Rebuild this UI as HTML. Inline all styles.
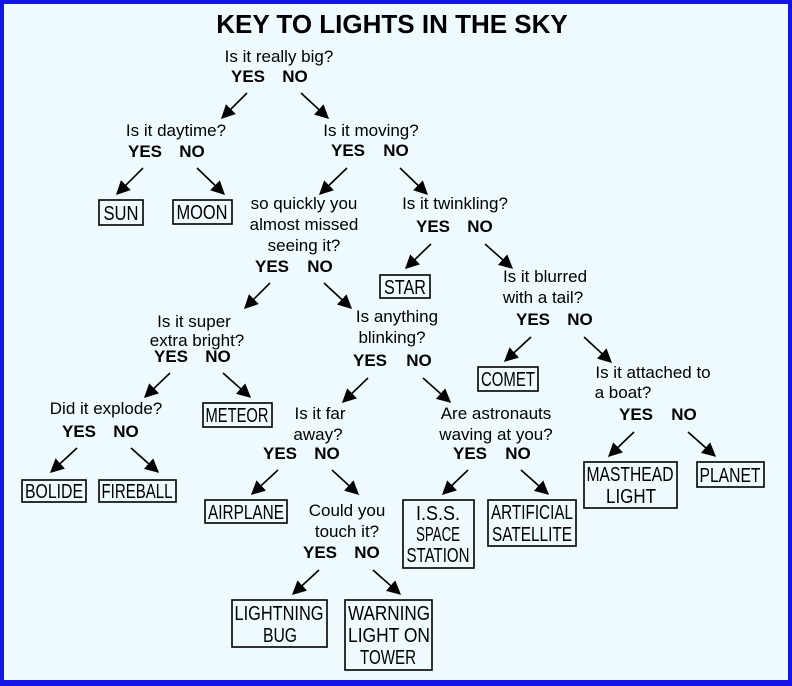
<!DOCTYPE html>
<html><head><meta charset="utf-8"><style>
html,body{margin:0;padding:0;}
body{width:792px;height:686px;overflow:hidden;}
svg{display:block;}
.q{font-family:"Liberation Sans",sans-serif;font-size:17px;fill:#000;text-anchor:middle;}
.b{font-family:"Liberation Sans",sans-serif;font-size:17px;font-weight:bold;fill:#000;text-anchor:middle;}
.n{font-family:"Liberation Sans",sans-serif;font-size:20px;fill:#000;text-anchor:middle;}
rect.x{fill:none;stroke:#000;stroke-width:1.6;}
line{stroke:#000;stroke-width:1.6;marker-end:url(#ah2);}
</style></head><body>
<svg width="792" height="686" viewBox="0 0 792 686">
<defs><marker id="ah2" viewBox="0 0 10 10" refX="9" refY="5" markerWidth="14" markerHeight="14" markerUnits="userSpaceOnUse" orient="auto"><path d="M0,0 L10,5 L0,10 Z" fill="#000"/></marker></defs>
<rect x="0" y="0" width="792" height="686" fill="#1414e6"/>
<rect x="4" y="4" width="784" height="676" fill="#eefafd"/>
<text x="392" y="33" style="font-family:'Liberation Sans',sans-serif;font-size:26px;font-weight:bold;text-anchor:middle">KEY TO LIGHTS IN THE SKY</text>

<text class="q" x="279" y="62">Is it really big?</text>
<text class="b" x="248" y="82">YES</text><text class="b" x="295" y="82">NO</text>
<line x1="247" y1="93" x2="222" y2="118"/><line x1="301" y1="93" x2="328" y2="118"/>

<text class="q" x="176" y="136">Is it daytime?</text>
<text class="b" x="145" y="157">YES</text><text class="b" x="192" y="157">NO</text>
<line x1="143" y1="168" x2="117" y2="194"/><line x1="197" y1="168" x2="224" y2="194"/>
<rect class="x" x="99" y="200" width="44" height="25"/><text class="n" x="121" y="220" textLength="35" lengthAdjust="spacingAndGlyphs">SUN</text>
<rect class="x" x="173" y="200" width="59" height="24"/><text class="n" x="202" y="219" textLength="51" lengthAdjust="spacingAndGlyphs">MOON</text>

<text class="q" x="371" y="136">Is it moving?</text>
<text class="b" x="348" y="156">YES</text><text class="b" x="396" y="156">NO</text>
<line x1="347" y1="168" x2="320" y2="194"/><line x1="400" y1="168" x2="427" y2="194"/>

<text class="q" x="304" y="209">so quickly you</text>
<text class="q" x="304" y="230">almost missed</text>
<text class="q" x="304" y="251">seeing it?</text>
<text class="b" x="272" y="272">YES</text><text class="b" x="320" y="272">NO</text>
<line x1="270" y1="283" x2="245" y2="308"/><line x1="324" y1="283" x2="351" y2="308"/>

<text class="q" x="455" y="209">Is it twinkling?</text>
<text class="b" x="433" y="232">YES</text><text class="b" x="480" y="232">NO</text>
<line x1="431" y1="244" x2="406" y2="268"/><line x1="485" y1="244" x2="512" y2="268"/>
<rect class="x" x="380" y="275" width="50" height="23"/><text class="n" x="405" y="294" textLength="42" lengthAdjust="spacingAndGlyphs">STAR</text>

<text class="q" x="545" y="282">Is it blurred</text>
<text class="q" x="543" y="303">with a tail?</text>
<text class="b" x="533" y="325">YES</text><text class="b" x="580" y="325">NO</text>
<line x1="531" y1="337" x2="505" y2="361"/><line x1="584" y1="337" x2="611" y2="362"/>
<rect class="x" x="478" y="367" width="60" height="24"/><text class="n" x="508" y="386" textLength="54" lengthAdjust="spacingAndGlyphs">COMET</text>

<text class="q" x="194" y="327">Is it super</text>
<text class="q" x="197" y="346">extra bright?</text>
<text class="b" x="171" y="362">YES</text><text class="b" x="218" y="362">NO</text>
<line x1="170" y1="373" x2="145" y2="397"/><line x1="223" y1="373" x2="250" y2="397"/>
<rect class="x" x="203" y="403" width="69" height="24"/><text class="n" x="237" y="422" textLength="63" lengthAdjust="spacingAndGlyphs">METEOR</text>

<text class="q" x="397" y="322">Is anything</text>
<text class="q" x="392" y="343">blinking?</text>
<text class="b" x="370" y="366">YES</text><text class="b" x="419" y="366">NO</text>
<line x1="368" y1="378" x2="343" y2="402"/><line x1="423" y1="378" x2="450" y2="402"/>

<text class="q" x="653" y="378">Is it attached to</text>
<text class="q" x="623" y="398">a boat?</text>
<text class="b" x="636" y="420">YES</text><text class="b" x="684" y="420">NO</text>
<line x1="634" y1="432" x2="609" y2="456"/><line x1="688" y1="432" x2="715" y2="456"/>
<rect class="x" x="584" y="462" width="93" height="46"/><text class="n" x="630" y="481" textLength="87" lengthAdjust="spacingAndGlyphs">MASTHEAD</text><text class="n" x="631" y="503" textLength="50" lengthAdjust="spacingAndGlyphs">LIGHT</text>
<rect class="x" x="697" y="462" width="67" height="25"/><text class="n" x="730" y="482" textLength="61" lengthAdjust="spacingAndGlyphs">PLANET</text>

<text class="q" x="106" y="414">Did it explode?</text>
<text class="b" x="79" y="437">YES</text><text class="b" x="126" y="437">NO</text>
<line x1="77" y1="448" x2="51" y2="472"/><line x1="131" y1="448" x2="158" y2="472"/>
<rect class="x" x="22" y="480" width="64" height="22"/><text class="n" x="54" y="498" textLength="58" lengthAdjust="spacingAndGlyphs">BOLIDE</text>
<rect class="x" x="99" y="480" width="77" height="22"/><text class="n" x="137" y="498" textLength="71" lengthAdjust="spacingAndGlyphs">FIREBALL</text>

<text class="q" x="320" y="419">Is it far</text>
<text class="q" x="318" y="440">away?</text>
<text class="b" x="280" y="459">YES</text><text class="b" x="327" y="459">NO</text>
<line x1="278" y1="470" x2="252" y2="494"/><line x1="332" y1="470" x2="358" y2="494"/>
<rect class="x" x="205" y="500" width="82" height="23"/><text class="n" x="246" y="519" textLength="76" lengthAdjust="spacingAndGlyphs">AIRPLANE</text>

<text class="q" x="496" y="419">Are astronauts</text>
<text class="q" x="496" y="440">waving at you?</text>
<text class="b" x="470" y="459">YES</text><text class="b" x="518" y="459">NO</text>
<line x1="468" y1="470" x2="443" y2="494"/><line x1="521" y1="470" x2="548" y2="494"/>
<rect class="x" x="403" y="500" width="71" height="68"/><text class="n" x="438" y="520" textLength="44" lengthAdjust="spacingAndGlyphs">I.S.S.</text><text class="n" x="438" y="541" textLength="44" lengthAdjust="spacingAndGlyphs">SPACE</text><text class="n" x="438" y="562" textLength="63" lengthAdjust="spacingAndGlyphs">STATION</text>
<rect class="x" x="488" y="500" width="88" height="46"/><text class="n" x="532" y="519" textLength="82" lengthAdjust="spacingAndGlyphs">ARTIFICIAL</text><text class="n" x="532" y="541" textLength="80" lengthAdjust="spacingAndGlyphs">SATELLITE</text>

<text class="q" x="347" y="516">Could you</text>
<text class="q" x="347" y="537">touch it?</text>
<text class="b" x="320" y="558">YES</text><text class="b" x="367" y="558">NO</text>
<line x1="319" y1="570" x2="293" y2="594"/><line x1="373" y1="570" x2="400" y2="594"/>
<rect class="x" x="232" y="600" width="95" height="47"/><text class="n" x="279" y="620" textLength="89" lengthAdjust="spacingAndGlyphs">LIGHTNING</text><text class="n" x="280" y="642" textLength="34" lengthAdjust="spacingAndGlyphs">BUG</text>
<rect class="x" x="345" y="600" width="87" height="70"/><text class="n" x="389" y="620" textLength="82" lengthAdjust="spacingAndGlyphs">WARNING</text><text class="n" x="389" y="642" textLength="82" lengthAdjust="spacingAndGlyphs">LIGHT ON</text><text class="n" x="388" y="664" textLength="56" lengthAdjust="spacingAndGlyphs">TOWER</text>
</svg>
</body></html>
